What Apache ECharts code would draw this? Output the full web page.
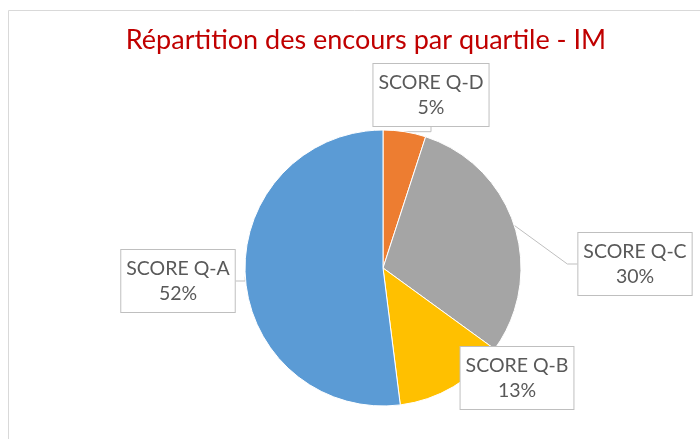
<!DOCTYPE html>
<html><head><meta charset="utf-8">
<script src="https://cdn.jsdelivr.net/npm/echarts@6/dist/echarts.min.js"></script>
<style>html,body{margin:0;padding:0;background:#fff}#c{width:700px;height:439px}</style>
</head><body><div id="c"></div>
<script>
const categories = ['SCORE Q-D', 'SCORE Q-C', 'SCORE Q-B', 'SCORE Q-A'];
const values = [5, 30, 13, 52];
const colors = ['#ed7d31', '#a5a5a5', '#ffc000', '#5b9bd5'];
const titleText = 'Répartition des encours par quartile - IM';

const labelPos = [[431, 95], [635, 264], [517, 378], [178, 281]];

const chart = echarts.init(document.getElementById('c'));
chart.setOption({
  animation: false,
  graphic: [{type: 'rect', shape: {x: 8.5, y: 10.5, width: 800, height: 600}, style: {fill: 'none', stroke: '#d9d9d9', lineWidth: 1}}],
  title: {text: titleText, left: 361, top: 22, textAlign: 'center',
    textStyle: {color: '#c00000', fontFamily: 'Lato', fontSize: 27, fontWeight: 'normal'}},
  series: [{
    type: 'pie', center: [383, 268], radius: 138, startAngle: 90, clockwise: true,
    data: categories.map((c, i) => ({name: c, value: values[i], itemStyle: {color: colors[i]}})),
    itemStyle: {borderColor: '#fff', borderWidth: 1},
    label: {show: true, formatter: p => p.name + '\n' + p.value + '%',
      fontFamily: 'Lato', fontSize: 19.5, color: '#595959', lineHeight: 25, align: 'center',
      backgroundColor: '#fff', borderColor: '#bfbfbf', borderWidth: 1, padding: [6, 5, 6, 5]},
    labelLine: {show: true, lineStyle: {color: '#bfbfbf', width: 1}, length: 10, length2: 10},
    labelLayout: p => ({x: labelPos[p.dataIndex][0], y: labelPos[p.dataIndex][1], align: 'center', verticalAlign: 'middle'})
  }]
});
</script></body></html>
